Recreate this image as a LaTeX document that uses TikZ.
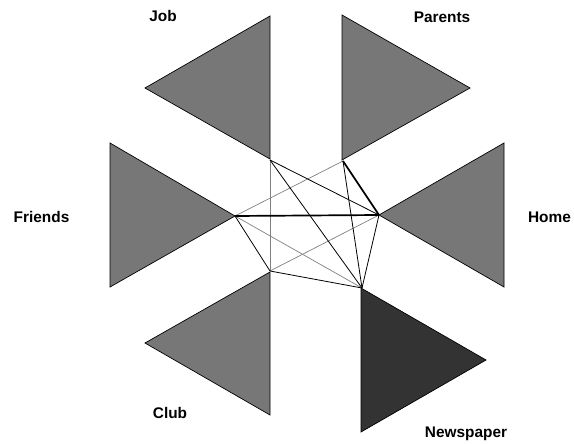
\documentclass[tikz,border=0pt]{standalone}
\usepackage{fontspec}
\setmainfont{Liberation Sans}
\begin{document}
\begin{tikzpicture}[x=1pt,y=-1pt,
  tri/.style={draw=black,line width=0.7pt,fill=triGray,line join=miter},
  lbl/.style={font=\fontsize{15.4}{16}\selectfont\bfseries,inner sep=0pt},
  thinE/.style={draw=black,line width=0.8pt},
  grayE/.style={draw=black!50,line width=0.7pt},
  thickE/.style={draw=black,line width=1.7pt}]
\definecolor{triGray}{HTML}{777777}
\definecolor{triDark}{HTML}{333333}
\useasboundingbox (0,0) rectangle (574,444);
% triangles
\draw[tri] (270,16) -- (145,88) -- (270,159) -- cycle;
\draw[tri] (342,15) -- (470,88) -- (342,160) -- cycle;
\draw[tri] (110,143) -- (235,216) -- (110,287) -- cycle;
\draw[tri] (504,143) -- (379,215) -- (504,287) -- cycle;
\draw[tri] (270,272) -- (145,343) -- (270,415) -- cycle;
\draw[tri,fill=triDark] (361,288) -- (486,360) -- (361,432) -- cycle;
% connection points
\coordinate (J) at (270,160);
\coordinate (P) at (343,161);
\coordinate (F) at (235,216);
\coordinate (H) at (379,215);
\coordinate (C) at (270,271);
\coordinate (N) at (362,288);
% edges
\draw[grayE] (J) -- (C);
\draw[grayE] (P) -- (F);
\draw[grayE] (F) -- (N);
\draw[grayE] (H) -- (C);
\draw[thinE] (J) -- (H);
\draw[thinE] (J) -- (N);
\draw[thinE] (P) -- (N);
\draw[thinE] (F) -- (C);
\draw[thinE] (H) -- (N);
\draw[thinE] (C) -- (N);
\draw[thickE] (P) -- (H);
\draw[thickE] (F) -- (H);
% labels
\node[lbl] (lJob) at (163,16) {Job};
\node[lbl] (lPar) at (442,17) {Parents};
\node[lbl] (lFri) at (41.5,217) {Friends};
\node[lbl] (lHom) at (549.5,217) {Home};
\node[lbl] (lClu) at (170,413) {Club};
\node[lbl,anchor=base] (lNew) at (466,437) {Newspaper};
\end{tikzpicture}
\end{document}
